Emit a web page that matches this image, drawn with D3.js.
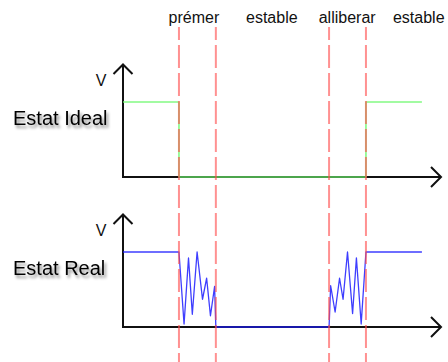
<!DOCTYPE html>
<html lang="en">
  <head>
    <meta charset="utf-8">
    <title>Estat Ideal / Estat Real</title>
    <style>
    body {margin: 0; background: #fff;}
    text {font-family: "Liberation Sans", Arial, sans-serif;}
    </style>
  </head>
  <body>
    <div id='my_dataviz'></div>

    <script src="https://d3js.org/d3.v7.min.js"></script>
    <script>
      // phase labels on top and where they sit (time units)
      var phaseLabels = ["prémer", "estable", "alliberar", "estable"];
      var phaseLabelTimes = [22.3, 46.8, 70.5, 93.0];
      // times of the red dashed markers
      var markerTimes = [17.6, 29.2, 64.8, 76.4];

      // ideal signal (time, volts)
      var idealT = [0, 17.6, 17.6, 76.4, 76.4, 94];
      var idealV = [1, 1, 0, 0, 1, 1];

      // real signal with bounce
      var realT = [0, 17.6, 19.2, 20.6, 21.8, 23.3, 25.0, 26.3, 27.5, 28.8, 29.2,
                   64.8, 65.3, 66.7, 68.1, 69.2, 70.6, 72.2, 73.4, 74.9, 76.4, 94];
      var realV = [1, 1, 0.04, 0.92, 0.17, 1.0, 0.37, 0.65, 0.15, 0.54, 0,
                   0, 0.55, 0.2, 0.65, 0.37, 1.0, 0.18, 0.92, 0.04, 1.0, 1];

      var panelNames = ["Estat Ideal", "Estat Real"];
      var axisLabel = "V";

      var width = 448, height = 362;

      var svg = d3.select("#my_dataviz")
        .append("svg")
          .attr("width", width)
          .attr("height", height);

      var defs = svg.append("defs");
      var f = defs.append("filter").attr("id", "shadow")
        .attr("x", "-20%").attr("y", "-40%").attr("width", "140%").attr("height", "200%");
      f.append("feDropShadow")
        .attr("dx", 2).attr("dy", 3)
        .attr("stdDeviation", 1.8)
        .attr("flood-color", "#000")
        .attr("flood-opacity", 0.45);

      var x = d3.scaleLinear()
        .domain([0, 100])
        .range([123, 441]);

      // one y scale per panel, baseline at 0 volts
      var bases = [177, 327];
      var ys = bases.map(function(b) {
        return d3.scaleLinear().domain([0, 1.5]).range([b, b - 112.5]);
      });

      function zip(t, v) {
        return t.map(function(d, i) { return {t: d, v: v[i]}; });
      }
      var signals = [zip(idealT, idealV), zip(realT, realV)];
      var colors = ["#6ff86f", "#1c1cff"];

      ys.forEach(function(y, i) {
        var g = svg.append("g");
        var x0 = x(0), y0 = y(0), yTop = y(1.5), xEnd = x(100);

        // axes
        g.append("path")
          .attr("d", "M" + x0 + "," + yTop + "V" + y0 + "H" + xEnd)
          .attr("fill", "none")
          .attr("stroke", "#111")
          .attr("stroke-width", 2);
        // arrow heads
        g.append("path")
          .attr("d", "M" + (x0 - 9.5) + "," + (yTop + 9.5) + "L" + x0 + "," + yTop + "L" + (x0 + 9.5) + "," + (yTop + 9.5))
          .attr("fill", "none").attr("stroke", "#111").attr("stroke-width", 2);
        g.append("path")
          .attr("d", "M" + (xEnd - 10) + "," + (y0 - 10) + "L" + xEnd + "," + y0 + "L" + (xEnd - 10) + "," + (y0 + 10))
          .attr("fill", "none").attr("stroke", "#111").attr("stroke-width", 2);

        g.append("path")
          .datum(signals[i])
          .attr("fill", "none")
          .attr("stroke", colors[i])
          .attr("stroke-opacity", 0.85)
          .attr("stroke-width", i == 0 ? 1.6 : 1.3)
          .attr("stroke-linejoin", "round")
          .attr("d", d3.line()
            .x(function(d) { return x(d.t); })
            .y(function(d) { return y(d.v); }));

        g.append("text")
          .attr("x", 101)
          .attr("y", y(1.5) + 21)
          .attr("text-anchor", "middle")
          .style("font-size", "16px")
          .style("fill", "#111")
          .text(axisLabel);

        g.append("text")
          .attr("x", 13)
          .attr("y", y(0.7))
          .attr("filter", "url(#shadow)")
          .style("font-size", "20px")
          .style("fill", "#000")
          .text(panelNames[i]);
      });

      // red dashed markers
      svg.selectAll(".marker")
        .data(markerTimes)
        .enter().append("line")
          .attr("class", "marker")
          .attr("x1", function(d) { return x(d); })
          .attr("x2", function(d) { return x(d); })
          .attr("y1", 27)
          .attr("y2", height)
          .attr("stroke", "#ff4d4d")
          .attr("stroke-opacity", 0.62)
          .attr("stroke-width", 2)
          .attr("stroke-dasharray", "23,5")
          .attr("stroke-dashoffset", 10);

      svg.selectAll(".phase")
        .data(phaseLabels)
        .enter().append("text")
          .attr("class", "phase")
          .attr("x", function(d, i) { return x(phaseLabelTimes[i]); })
          .attr("y", 23)
          .attr("text-anchor", "middle")
          .style("font-size", "16px")
          .style("fill", "#111")
          .text(function(d) { return d; });
    </script>
  </body>
</html>
